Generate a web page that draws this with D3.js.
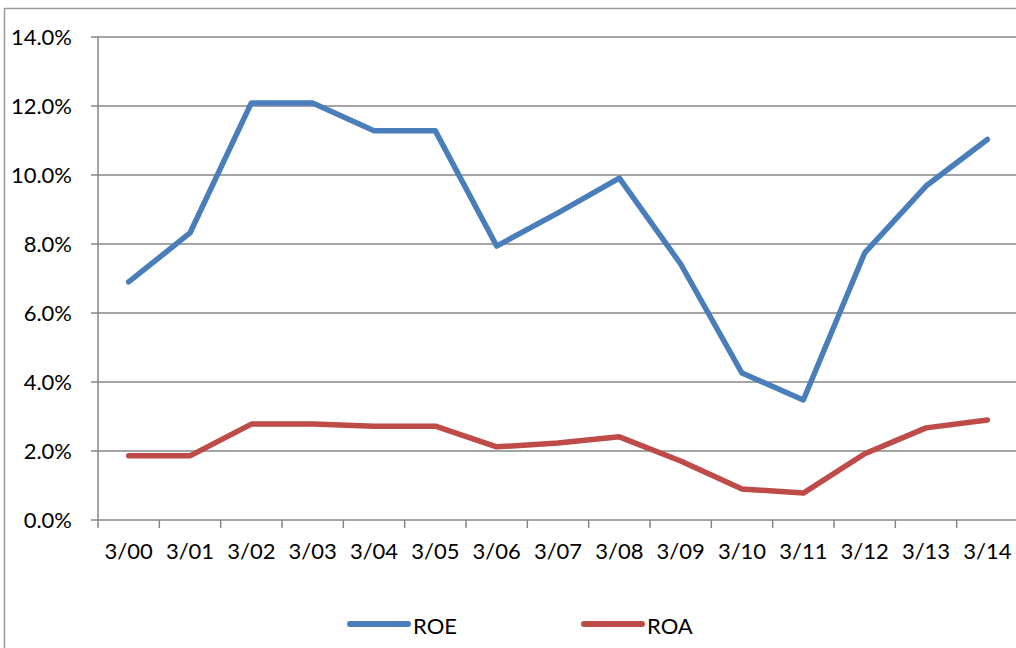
<html lang="en">
<head>
<meta http-equiv="Content-Type" content="text/html; charset=UTF-8">
<title>ROE ROA</title>
<script type="text/javascript" src="https://cdn.jsdelivr.net/npm/d3@7"></script>
<style type="text/css">
body { margin: 0; background: #fff; }
text { font-family: Lato, "Open Sans", sans-serif; fill: #000; }
</style>
</head>
<body>
<script type="text/javascript">

var categories = ["3/00", "3/01", "3/02", "3/03", "3/04", "3/05", "3/06", "3/07", "3/08", "3/09", "3/10", "3/11", "3/12", "3/13", "3/14"];
var roe = [6.9, 8.32, 12.09, 12.09, 11.28, 11.28, 7.94, 8.9, 9.91, 7.42, 4.26, 3.48, 7.74, 9.68, 11.03];
var roa = [1.86, 1.86, 2.78, 2.78, 2.72, 2.72, 2.12, 2.23, 2.41, 1.71, 0.9, 0.78, 1.92, 2.67, 2.9];
var yTicks = [0, 2, 4, 6, 8, 10, 12, 14];
var seriesNames = ["ROE", "ROA"];
var seriesColors = ["#4a7ebb", "#be4b48"];

var svg = d3.select("body").append("svg")
    .attr("width", 1016)
    .attr("height", 648);

// outer chart border (runs off the right and bottom)
svg.append("rect")
    .attr("x", 4.5).attr("y", 8.5)
    .attr("width", 1100).attr("height", 700)
    .attr("fill", "none")
    .attr("stroke", "#9a9a9a")
    .attr("stroke-width", 1.5);

var plotLeft = 98, plotRight = 1018, plotTop = 37, plotBottom = 520;

var x = d3.scaleBand().domain(categories).range([plotLeft, plotRight]);
var y = d3.scaleLinear().domain([0, 14]).range([plotBottom, plotTop]);

// gridlines
svg.append("g").selectAll("line")
    .data(yTicks).enter().append("line")
    .attr("x1", plotLeft - 7).attr("x2", 1016)
    .attr("y1", function(d){ return y(d); })
    .attr("y2", function(d){ return y(d); })
    .attr("stroke", "#868686")
    .attr("stroke-width", 1.5);

// y axis
var yAxis = d3.axisLeft(y).tickValues(yTicks).tickSize(0).tickPadding(26)
    .tickFormat(function(d){ return d.toFixed(1) + "%"; });
var gy = svg.append("g").attr("transform", "translate(" + plotLeft + ",0)").call(yAxis);
gy.select(".domain").remove();
gy.selectAll("text").style("font-size", "22px").style("font-family", null);

svg.append("line")
    .attr("x1", plotLeft).attr("x2", plotLeft)
    .attr("y1", plotTop).attr("y2", plotBottom + 8)
    .attr("stroke", "#868686").attr("stroke-width", 1.5);

// x axis ticks at band edges
var edges = categories.map(function(c){ return x(c); });
svg.append("g").selectAll("line")
    .data(edges.slice(1)).enter().append("line")
    .attr("x1", function(d){ return d; }).attr("x2", function(d){ return d; })
    .attr("y1", plotBottom).attr("y2", plotBottom + 8)
    .attr("stroke", "#868686").attr("stroke-width", 1.5);

var xAxis = d3.axisBottom(x).tickSize(0).tickPadding(23);
var gx = svg.append("g").attr("transform", "translate(0," + plotBottom + ")").call(xAxis);
gx.select(".domain").remove();
gx.selectAll("text").style("font-size", "22px").style("font-family", null);

// lines
var line = d3.line()
    .x(function(d, i){ return x(categories[i]) + x.bandwidth() / 2; })
    .y(function(d){ return y(d); });

[roe, roa].forEach(function(s, k) {
    svg.append("path")
        .attr("d", line(s))
        .attr("fill", "none")
        .attr("stroke", seriesColors[k])
        .attr("stroke-width", 5.5)
        .attr("stroke-linejoin", "round")
        .attr("stroke-linecap", "round");
});

// legend
var legendX = [350, 584];
seriesNames.forEach(function(n, k) {
    svg.append("line")
        .attr("x1", legendX[k]).attr("x2", legendX[k] + 58)
        .attr("y1", 624).attr("y2", 624)
        .attr("stroke", seriesColors[k])
        .attr("stroke-width", 6)
        .attr("stroke-linecap", "round");
    svg.append("text")
        .attr("x", legendX[k] + 63).attr("y", 626)
        .attr("dy", "0.35em")
        .style("font-size", "22px")
        .text(n);
});

</script>
</body>
</html>
